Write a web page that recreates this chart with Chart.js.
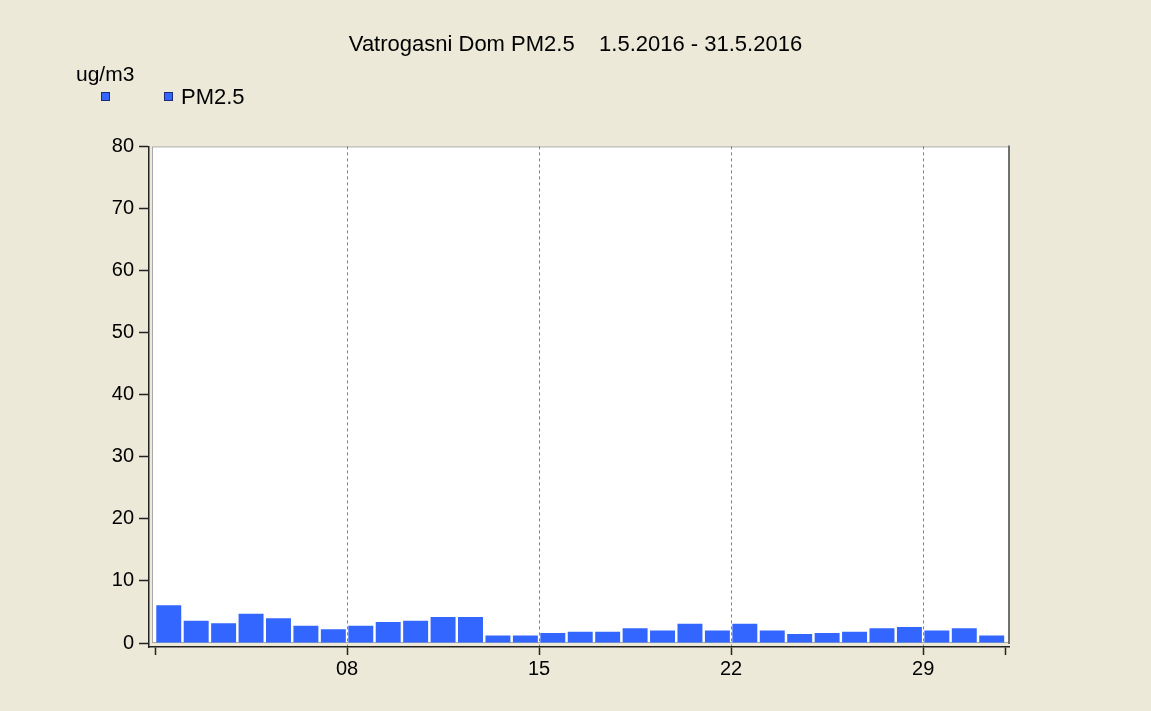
<!DOCTYPE html>
<html>
<head>
<meta charset="utf-8">
<script src="https://cdn.jsdelivr.net/npm/chart.js@4/dist/chart.umd.min.js"></script>
<style>
  html, body { margin: 0; padding: 0; background: #ece9d8; }
  canvas { display: block; }
</style>
</head>
<body>
<canvas id="myChart" width="1151" height="711"></canvas>
<script>
// daily means, 1.5.2016 - 31.5.2016
var days = [1,2,3,4,5,6,7,8,9,10,11,12,13,14,15,16,17,18,19,20,21,22,23,24,25,26,27,28,29,30,31];
var pm25 = [6.1, 3.6, 3.2, 4.7, 4.0, 2.8, 2.2, 2.8, 3.4, 3.6, 4.2, 4.2, 1.2, 1.2, 1.6, 1.8,
            1.8, 2.4, 2.0, 3.1, 2.0, 3.1, 2.0, 1.45, 1.6, 1.8, 2.4, 2.6, 2.0, 2.4, 1.2];
var xTickPos = [0, 7, 14, 21, 28, 31];
var xTickLabels = ['', '08', '15', '22', '29', ''];
var yTicks = [0, 10, 20, 30, 40, 50, 60, 70, 80];

var barBlue = '#3366ff';
var fontFamily = '"Liberation Sans", Arial, sans-serif';

// white plot area with grey frame, plus unit label and legend
var framePlugin = {
	id: 'frame',
	beforeDraw: function(chart) {
		var a = chart.chartArea, ctx = chart.ctx;
		ctx.save();
		ctx.fillStyle = '#ffffff';
		ctx.fillRect(a.left + 3, a.top, a.right - a.left - 3, a.bottom - a.top - 4);
		ctx.strokeStyle = '#a8a8a8';
		ctx.lineWidth = 1;
		ctx.strokeRect(a.left + 3.5, a.top + 0.5, a.right - a.left - 4, a.bottom - a.top - 5);
		ctx.strokeStyle = '#707070';
		ctx.lineWidth = 2;
		ctx.beginPath();
		ctx.moveTo(a.right, a.top - 1);
		ctx.lineTo(a.right, a.bottom - 3);
		ctx.stroke();
		ctx.restore();
	},
	afterDraw: function(chart) {
		var ctx = chart.ctx;
		ctx.save();
		ctx.fillStyle = '#000';
		ctx.font = '21px ' + fontFamily;
		ctx.textBaseline = 'middle';
		ctx.fillText('ug/m3', 76, 75);
		// legend boxes
		[101, 164].forEach(function(x) {
			ctx.fillStyle = barBlue;
			ctx.fillRect(x, 92, 9, 9);
			ctx.strokeStyle = '#1c2a7a';
			ctx.lineWidth = 1;
			ctx.strokeRect(x + 0.5, 92.5, 8, 8);
		});
		ctx.fillStyle = '#000';
		ctx.font = '22px ' + fontFamily;
		ctx.fillText('PM2.5', 181, 98);
		ctx.restore();
	}
};

var myChart = new Chart(document.getElementById('myChart'), {
	type: 'bar',
	data: {
		datasets: [{
			label: 'PM2.5',
			data: days.map(function(d, i) { return {x: d - 0.5, y: pm25[i]}; }),
			backgroundColor: barBlue,
			borderWidth: 0,
			categoryPercentage: 1,
			barPercentage: 0.91
		}]
	},
	options: {
		responsive: false,
		animation: false,
		layout: {
			padding: {left: 0, right: 0, top: 0, bottom: 34}
		},
		plugins: {
			legend: { display: false },
			tooltip: { enabled: false },
			title: {
				display: true,
				text: 'Vatrogasni Dom PM2.5    1.5.2016 - 31.5.2016',
				color: '#000',
				font: { family: fontFamily, size: 22, weight: 'normal' },
				padding: { top: 32, bottom: 88 }
			}
		},
		scales: {
			x: {
				type: 'linear',
				offset: false,
				min: -0.22,
				max: 31.13,
				afterBuildTicks: function(scale) {
					scale.ticks = xTickPos.map(function(v) { return {value: v}; });
				},
				afterFit: function(scale) { scale.height = 30; },
				ticks: {
					autoSkip: false,
					maxRotation: 0,
					padding: 2,
					color: '#000',
					font: { family: fontFamily, size: 20 },
					callback: function(value) {
						var i = xTickPos.indexOf(value);
						return i >= 0 ? xTickLabels[i] : '';
					}
				},
				grid: {
					offset: false,
					color: function(context) {
						var v = context.tick && context.tick.value;
						return (v > 0 && v < 31) ? '#808080' : 'rgba(0,0,0,0)';
					},
					lineWidth: 1,
					tickColor: '#222',
					tickLength: 8,
					tickWidth: 1.5
				},
				border: { display: true, color: '#222', width: 1.5, dash: [3, 3] }
			},
			y: {
				min: -0.64,
				max: 80,
				afterBuildTicks: function(scale) {
					scale.ticks = yTicks.map(function(v) { return {value: v}; });
				},
				afterFit: function(scale) { scale.width = 149; },
				ticks: {
					padding: 5,
					color: '#000',
					font: { family: fontFamily, size: 20 }
				},
				grid: {
					drawOnChartArea: false,
					tickColor: '#222',
					tickLength: 10,
					tickWidth: 1.5
				},
				border: { display: true, color: '#222', width: 1.5 }
			},
			// empty right axis that only reserves the margin right of the plot
			yRight: {
				position: 'right',
				afterFit: function(scale) { scale.width = 142; },
				ticks: { display: false },
				grid: { display: false },
				border: { display: false }
			}
		}
	},
	plugins: [framePlugin]
});
</script>
</body>
</html>
